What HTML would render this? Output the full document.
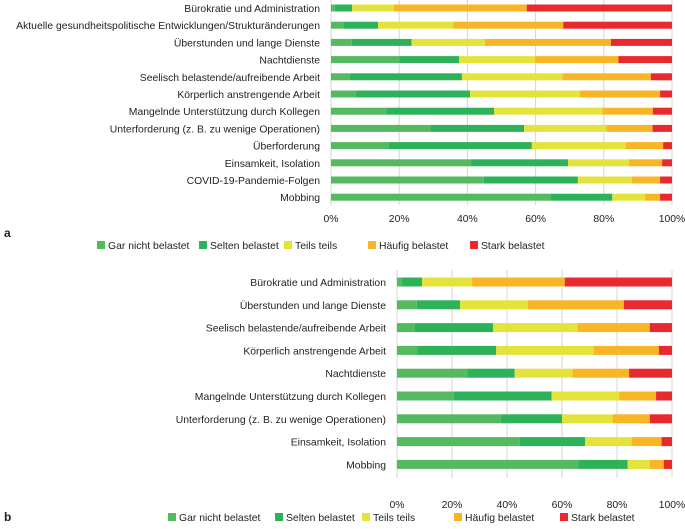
<!DOCTYPE html>
<html><head><meta charset="utf-8">
<style>
body{margin:0;background:#fff;width:685px;height:524px;overflow:hidden;font-family:"Liberation Sans",sans-serif}
svg text{font-family:"Liberation Sans",sans-serif;font-size:10.4px;fill:#222}
</style></head>
<body>
<svg id="c" width="685" height="524"></svg>
<script>
const seriesNames=["Gar nicht belastet","Selten belastet","Teils teils","Häufig belastet","Stark belastet"];
const colors=["#55b95f","#2db25a","#e3e33c","#f8b627","#e8292e"];
const tickLabels=["0%","20%","40%","60%","80%","100%"];
const catsA=["Bürokratie und Administration","Aktuelle gesundheitspolitische Entwicklungen/Strukturänderungen","Überstunden und lange Dienste","Nachtdienste","Seelisch belastende/aufreibende Arbeit","Körperlich anstrengende Arbeit","Mangelnde Unterstützung durch Kollegen","Unterforderung (z. B. zu wenige Operationen)","Überforderung","Einsamkeit, Isolation","COVID-19-Pandemie-Folgen","Mobbing"];
const gar_A=[1.1,3.7,6.1,20,5.5,7.3,16.2,29.1,17,41.2,44.8,64.4];
const selten_A=[5.1,10.1,17.5,17.6,32.9,33.5,31.6,27.5,41.9,28.3,27.6,18.1];
const teils_A=[12.2,22,21.5,22.3,29.4,32.2,31.8,24.2,27.6,17.9,15.8,9.6];
const haeufig_A=[39,32.3,37,24.4,26,23.5,14.8,13.5,10.9,9.7,8.3,4.4];
const stark_A=[42.6,31.9,17.9,15.7,6.2,3.5,5.6,5.7,2.6,2.9,3.5,3.5];
const catsB=["Bürokratie und Administration","Überstunden und lange Dienste","Seelisch belastende/aufreibende Arbeit","Körperlich anstrengende Arbeit","Nachtdienste","Mangelnde Unterstützung durch Kollegen","Unterforderung (z. B. zu wenige Operationen)","Einsamkeit, Isolation","Mobbing"];
const gar_B=[1.8,7.2,6.4,7.3,25.5,20.7,37.8,44.6,65.9];
const selten_B=[7.3,15.7,28.5,28.8,17.3,35.5,22.2,23.8,18];
const teils_B=[18.2,24.7,30.8,35.4,21,24.6,18.4,16.9,8.1];
const haeufig_B=[33.7,34.9,26.2,23.7,20.6,13.4,13.5,10.9,5];
const stark_B=[39,17.5,8.1,4.8,15.6,5.8,8.1,3.8,3];

const NS="http://www.w3.org/2000/svg";
const svg=document.getElementById('c');
function mk(t,a,p){const e=document.createElementNS(NS,t);for(const k in a)e.setAttribute(k,a[k]);(p||svg).appendChild(e);return e;}

function chart(id,cats,series,x0,x1,yFirst,yStep,barH,gridTop,gridBot,tickY,legY,legXs,letterY){
  const g=mk('g',{});
  
  
  const xs=v=>x0+(x1-x0)*v/100;
  const ys=i=>yFirst+i*yStep;
  tickLabels.forEach((t,i)=>{
    const v=i*20;
    const l=mk('line',{x1:xs(v),x2:xs(v),y1:gridTop,y2:gridBot,stroke:'#d4d4d4','stroke-width':1},g);
    
    
    const tx=mk('text',{x:xs(v),y:tickY,'text-anchor':'middle'},g);tx.textContent=t;
    
    
  });
  cats.forEach((c,i)=>{
    const y=ys(i);
    const lb=mk('text',{x:x0-11,y:y+4,'text-anchor':'end'},g);lb.textContent=c;
    
    
    let acc=0;
    series.forEach((s,k)=>{
      const r=mk('rect',{x:xs(acc),y:y-barH/2,width:xs(acc+s[i])-xs(acc),height:barH,fill:colors[k]},g);
      
      
      acc+=s[i];
    });
  });
  const let_=mk('text',{x:4,y:letterY,'style':'font-size:12px;font-weight:bold'},g);let_.textContent=id;
  
  
  seriesNames.forEach((n,k)=>{
    const lx=legXs[k];
    const r=mk('rect',{x:lx,y:legY-8,width:8,height:8,fill:colors[k]},g);
    
    
    const t=mk('text',{x:lx+11,y:legY},g);t.textContent=n;
    
    
  });
}
chart('a',catsA,[gar_A,selten_A,teils_A,haeufig_A,stark_A],331,672,8,17.2,7,0,205,222,249,[97,199,284,368,470],237);
chart('b',catsB,[gar_B,selten_B,teils_B,haeufig_B,stark_B],397,672,282,22.8,9,270,478,508,521,[168,275,362,454,560],521);
</script>
</body></html>
